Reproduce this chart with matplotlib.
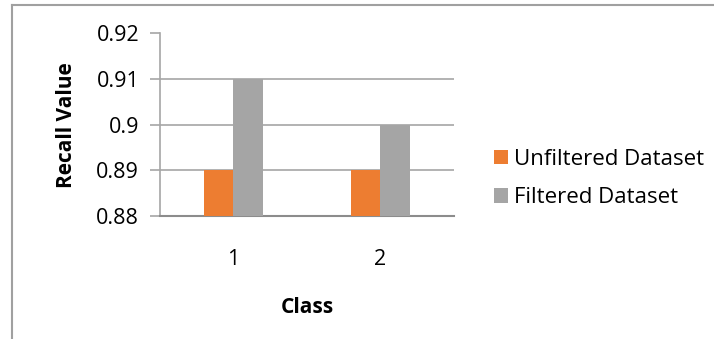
import matplotlib.pyplot as plt
from matplotlib.lines import Line2D
import numpy as np

classes = ["1", "2"]
unfiltered = [0.89, 0.89]
filtered = [0.91, 0.90]
yticks = [0.88, 0.89, 0.90, 0.91, 0.92]
ytick_labels = ["0.88", "0.89", "0.9", "0.91", "0.92"]

plt.rcParams['font.family'] = ['Open Sans', 'DejaVu Sans']

fig = plt.figure(figsize=(7.14, 3.39), dpi=100)
W, H = 714, 339
ax = fig.add_axes([160 / W, 1 - 216 / H, (453.7 - 160) / W, (216 - 33.5) / H])

x = np.arange(len(classes))
w = 0.2
orange = "#ED7D31"
gray = "#A5A5A5"
b1 = ax.bar(x - w / 2, unfiltered, w, color=orange, label="Unfiltered Dataset", zorder=3)
b2 = ax.bar(x + w / 2, filtered, w, color=gray, label="Filtered Dataset", zorder=3)

ax.set_xlim(-0.5, 1.5)
ax.set_ylim(0.88, 0.92)
ax.set_yticks(yticks)
ax.set_yticklabels(ytick_labels, fontsize=15.5)
ax.set_xticks(x)
ax.set_xticklabels(classes, fontsize=15.5)
ax.yaxis.grid(True, color="#a6a6a6", linewidth=1.2, zorder=0)
ax.set_axisbelow(True)

for s in ["top", "right"]:
    ax.spines[s].set_visible(False)
ax.spines["left"].set_color("#a6a6a6")
ax.spines["left"].set_linewidth(1.2)
ax.spines["bottom"].set_color("#8c8c8c")
ax.spines["bottom"].set_linewidth(1.5)
ax.tick_params(axis="y", length=7, width=1.2, color="#a6a6a6", pad=8)
ax.tick_params(axis="x", length=0, pad=24)

ax.set_xlabel("Class", fontsize=15, fontweight="bold", labelpad=19)
ax.set_ylabel("Recall Value", fontsize=15, fontweight="bold", labelpad=14)

leg = fig.legend(handles=[b1, b2], loc="center left", bbox_to_anchor=(494 / W, 1 - 178.5 / H),
                 frameon=False, fontsize=16, handlelength=0.63, handleheight=0.63,
                 handletextpad=0.27, labelspacing=0.8, borderpad=0, borderaxespad=0)

# Chart frame
fig.add_artist(Line2D([12 / W, 12 / W], [0, 1 - 5 / H], color="#a0a0a0", linewidth=1.5))
fig.add_artist(Line2D([12 / W, 1], [1 - 5 / H, 1 - 5 / H], color="#a0a0a0", linewidth=1.5))

fig.savefig("out.png", dpi=100)
